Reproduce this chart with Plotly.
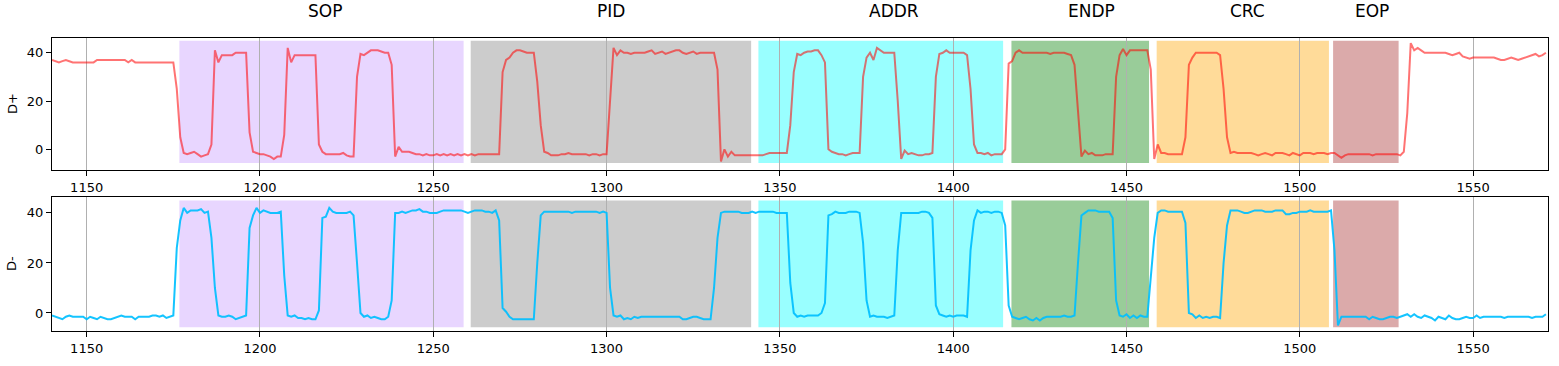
import plotly.graph_objects as go
from plotly.subplots import make_subplots

# ---------------- data ----------------
x_start = 1140
d_plus = [
    37, 36.5, 36, 36.5, 37, 36.5, 36, 36, 36, 36,            # 1140
    36, 36, 36, 37, 37, 37, 37, 37, 37, 37,                  # 1150
    37, 37, 36, 37, 36, 36, 36, 36, 36, 36,                  # 1160
    36, 36, 36, 36, 36, 36, 25, 5, -1.5, -2,                 # 1170
    -1.5, -1, -2, -3, -2.5, -2, 2, 41, 36, 39,               # 1180
    39, 39, 39, 40, 40, 40, 40, 7, -1, -1.5,                 # 1190
    -2, -2, -2.5, -3, -4, -3, -3, 6, 42, 36,                 # 1200
    39, 39, 39, 39, 39, 39, 39, 2, -1, -2,                   # 1210
    -2, -2, -2, -2, -1.5, -2.5, -3, -3, 30, 39.5,            # 1220
    39, 40, 41, 41, 41, 40.5, 40, 40, 35, -3,                # 1230
    1, -1, -1, -1, -1.5, -2, -2, -2.5, -2, -2.5,             # 1240
    -2.5, -2, -2.5, -2, -2.5, -2, -2.5, -2, -2.5, -2,        # 1250
    -2.5, -2, -2.5, -2, -2, -2, -2, -2, -2, -2,              # 1260
    32, 37, 38, 40, 41, 41, 40.5, 40, 40, 40,                # 1270
    28, 10, -1, -1.5, -2.5, -2.5, -2.5, -2, -2, -1.5,        # 1280
    -2, -2, -2, -2, -2, -2.5, -2, -2, -2.5, -2,              # 1290
    -2, 20, 42, 39, 41, 40, 40, 39.5, 40, 40,                # 1300
    40, 40, 40.5, 41, 39.5, 40, 40.5, 39.5, 40, 40.5,        # 1310
    41, 41, 40, 39.5, 40, 40.5, 39.5, 40, 40, 40,            # 1320
    40, 40, 33, -5, 0, -3, -1, -2.5, -2.5, -2.5,             # 1330
    -2.5, -2.5, -2.5, -2.5, -2.5, -2.5, -2, -1.5, -1.5, -1.5,  # 1340
    -1.5, -1.5, -1.5, 10, 32, 39.5, 39, 40, 40.5, 40.5,      # 1350
    41, 41, 39, 36, 0, -1, -1.5, -2, -2, -2.5,               # 1360
    -2, -1.5, -1.5, -1.5, 30, 38, 40, 37, 42, 41,            # 1370
    40, 40, 40, 40, 20, -4, -0.5, -2, -1.5, -2,              # 1380
    -2.5, -2.5, -2, -2, -1.5, 30, 39.5, 40, 41, 40,          # 1390
    40, 40, 40, 40, 39, 25, 2, -1.5, -1.5, -2,               # 1400
    -1.5, -2.5, -2, -2, -2, 0, 35.5, 36.5, 40, 41,           # 1410
    40, 40, 40, 40, 40, 40, 40, 40, 39.5, 40,                # 1420
    40, 40, 40, 39.5, 39, 35, 15, -3, -0.5, -2,              # 1430
    -1.5, -2.5, -2.5, -2.5, -2, -2, -2, 30, 39, 41.5,        # 1440
    39, 41, 41, 41, 41, 41, 41, 33, -4, 2,                   # 1450
    -1.5, -1.5, -2, -2, -2, -2, -2, 5, 35, 38,               # 1460
    40, 40, 40, 40, 40, 40, 40, 39, 25, 5,                   # 1470
    -1.5, -1, -1.5, -1.5, -1.5, -1.5, -1.5, -2, -2.5, -2,    # 1480
    -1.5, -2, -2.5, -1.5, -1.5, -1.5, -2, -2.5, -1.5, -2,    # 1490
    -2.5, -1.5, -1.5, -1.5, -2, -1.5, -1.5, -1.5, -2, -1.5,  # 1500
    -1.5, -2.5, -3.5, -2.5, -2, -2, -2, -2, -2, -2,          # 1510
    -2, -2.5, -2, -2, -2, -2, -2, -2, -2, -2.5,              # 1520
    -1, 15, 44, 41, 42, 41, 40, 40, 40, 40,                  # 1530
    40, 40, 40, 39.5, 39, 39.5, 40, 38.5, 38, 37.5,          # 1540
    38, 38, 38, 38, 38, 38, 38, 37.5, 37, 37,                # 1550
    37.5, 38, 37.5, 37, 37.5, 38, 38.5, 39, 39.5, 38.5,      # 1560
    39, 40,                                                  # 1570
]
d_minus = [
    -1, -1.5, -2, -2.5, -1.5, -1, -1.5, -1.5, -1.5, -1.5,    # 1140
    -2.5, -1.5, -2, -2.5, -1.5, -2, -2.5, -2.5, -2, -1.5,    # 1150
    -1, -1.5, -1.5, -1.5, -2.5, -1.5, -1.5, -1.5, -1.5, -1,  # 1160
    -1, -1.5, -1, -2, -1.5, -1, 26, 37, 42, 40,              # 1170
    41, 41, 41, 41.5, 40, 40.5, 30, 10, -1, -1.5,            # 1180
    -1.5, -1, -1.5, -2.5, -2, -1.5, -1, 34, 39, 42,          # 1190
    40, 41, 40.5, 40, 40, 40, 40.5, 15, -1, -1.5,            # 1200
    -1, -2, -2, -2.5, -2, -2.5, -2.5, 1, 38, 38.5,           # 1210
    42, 40.5, 40, 40, 40, 40, 40.5, 39, 20, 0,               # 1220
    -1.5, -1, -2, -1.5, -2, -2.5, -2.5, -1.5, 5, 40,         # 1230
    40, 40.5, 40, 40.5, 41, 41, 41.5, 40.5, 40.5, 40,        # 1240
    40, 40, 40.5, 41, 41, 41, 41, 41, 41, 40.5,              # 1250
    40, 40.5, 41, 41, 41, 40.5, 40.5, 40, 41, 37,            # 1260
    2, 0.5, -1.5, -2.5, -2.5, -2.5, -2.5, -2.5, -2.5, -2.5,  # 1270
    20, 39, 40.5, 40.5, 40.5, 40.5, 40.5, 40.5, 40.5, 40.5,  # 1280
    40, 40.5, 40.5, 40.5, 40.5, 40.5, 40.5, 40.5, 40, 40.5,  # 1290
    40, 10, -1, -1.5, -1, -2.5, -2, -2.5, -1.5, -2,          # 1300
    -1.5, -1.5, -1.5, -1.5, -1.5, -1.5, -1.5, -1.5, -1.5, -1.5,  # 1310
    -1.5, -1.5, -2.5, -2.5, -2, -1.5, -1.5, -2, -2.5, -2.5,  # 1320
    -2.5, 10, 30, 40, 40.5, 40.5, 40.5, 40.5, 40.5, 40,      # 1330
    40, 40, 40.5, 40, 40.5, 40.5, 40.5, 40.5, 40.5, 40,      # 1340
    40, 40, 40, 12, 0, -1.5, -1, -1.5, -1, -1,               # 1350
    -1, -1, 0, 4, 39, 39.5, 40.5, 40, 40, 40,                # 1360
    40.5, 40.5, 40.5, 40, 28, 5, -1.5, -1, -1.5, -1.5,       # 1370
    -1.5, -2, -1.5, -1, 25, 40, 40, 40, 40, 40,              # 1380
    40, 40.5, 40.5, 40, 38, 3, -0.5, -1, -1.5, -1,           # 1390
    -1.5, -1, -1, -1, -1.5, 25, 37, 41, 40, 40.5,            # 1400
    40.5, 40, 40.5, 40.5, 40, 35, 3, -1.5, -2, -2.5,         # 1410
    -2, -1.5, -2.5, -3, -2, -3, -2, -1.5, -1.5, -1.5,        # 1420
    -1.5, -1.5, -1, -1.5, -1.5, -1, 20, 39, 40, 41,          # 1430
    41, 41, 40.5, 40.5, 40.5, 40.5, 38, 5, -1, -1.5,         # 1440
    -0.5, -2, -1, -2, -1, -1.5, -1.5, 15, 30, 40,            # 1450
    41, 41, 40.5, 40.5, 40.5, 40.5, 40.5, 36, 0, -0.5,       # 1460
    -2, -1, -2, -1.5, -2, -1.5, -1.5, -2, 20, 35,            # 1470
    41, 41, 41, 40.5, 40, 40, 40.5, 41, 41, 41,              # 1480
    40.5, 40.5, 40.5, 41, 41, 41, 39.5, 39.5, 40, 40,        # 1490
    40.5, 40.5, 40.5, 41, 40.5, 40.5, 40.5, 40.5, 40.5, 41,  # 1500
    25, -5, -1.5, -1.5, -1.5, -1.5, -1.5, -1.5, -1.5, -1.5,  # 1510
    -2.5, -1.5, -2, -2.5, -2.5, -2, -1.5, -1.5, -2, -1.5,    # 1520
    -1, -0.5, -1.5, -0.5, -1.5, -2, -1, -1.5, -2, -3,        # 1530
    -1.5, -2, -2.5, -1, -2, -2.5, -2.5, -2, -1.5, -2,        # 1540
    -2, -1, -2, -1.5, -1.5, -1.5, -1.5, -1.5, -1.5, -2,      # 1550
    -1.5, -1.5, -1.5, -1.5, -1.5, -1.5, -1.5, -2, -1.5, -1.5,  # 1560
    -1.5, -0.5,                                              # 1570
]
samples = list(range(x_start, x_start + len(d_plus)))

field_names = ["SOP", "PID", "ADDR", "ENDP", "CRC", "EOP"]
field_start = [1176.75, 1260.8, 1343.8, 1416.8, 1458.7, 1509.6]
field_end = [1258.75, 1341.7, 1414.4, 1456.5, 1508.4, 1528.5]
field_label_x = [1218.8, 1301.3, 1382.8, 1439.9, 1484.8, 1520.9]
field_colors = ["rgb(197,152,255)", "rgb(128,128,128)", "rgb(0,255,255)",
                "rgb(0,128,0)", "rgb(255,165,0)", "rgb(165,42,42)"]
x_ticks = [1150, 1200, 1250, 1300, 1350, 1400, 1450, 1500, 1550]
y_ticks = [0, 20, 40]

# ---------------- figure ----------------
W, H = 1559, 366
ml, mr, mt, mb = 52, 10, 38, 33
ph = H - mt - mb
fig = make_subplots(rows=2, cols=1)

fig.add_trace(go.Scatter(x=samples, y=d_plus, mode="lines",
                         line=dict(color="rgba(255,0,0,0.55)", width=2),
                         showlegend=False), row=1, col=1)
fig.add_trace(go.Scatter(x=samples, y=d_minus, mode="lines",
                         line=dict(color="rgba(0,191,255,0.92)", width=2),
                         showlegend=False), row=2, col=1)

for xref, yref in (("x", "y"), ("x2", "y2")):
    for s, e, c in zip(field_start, field_end, field_colors):
        fig.add_shape(type="rect", xref=xref, yref=yref, x0=s, x1=e, y0=-5.7, y1=45,
                      fillcolor=c, opacity=0.4, line=dict(width=0), layer="below")

for name, lx in zip(field_names, field_label_x):
    fig.add_annotation(x=lx, xref="x", y=(H - mb - 11) / ph, yref="paper",
                       text=name, showarrow=False, xanchor="center", yanchor="middle",
                       font=dict(size=17, color="black"))

axis_common = dict(showline=True, mirror=True, linecolor="black", linewidth=1,
                   ticks="outside", ticklen=5, tickwidth=1, tickcolor="black",
                   zeroline=False, tickfont=dict(size=13, color="black"))
top_dom = [(H - mb - 171) / ph, 1.0]
bot_dom = [0.0, (H - mb - 198) / ph]
fig.update_xaxes(range=[1140, 1571.6], tickvals=x_ticks, showgrid=True,
                 gridcolor="rgb(176,176,176)", gridwidth=0.8, **axis_common)
fig.update_yaxes(tickvals=y_ticks, showgrid=False, **axis_common)
fig.update_layout(
    width=W, height=H, plot_bgcolor="white", paper_bgcolor="white",
    margin=dict(l=ml, r=mr, t=mt, b=mb),
    font=dict(family="DejaVu Sans", color="black"),
    xaxis=dict(domain=[0, 1], anchor="y"),
    xaxis2=dict(domain=[0, 1], anchor="y2"),
    yaxis=dict(domain=top_dom, range=[-8.6, 46.1]),
    yaxis2=dict(domain=bot_dom, range=[-7.2, 46.4]),
)
for label, dom in (("D+", top_dom), ("D-", bot_dom)):
    fig.add_annotation(x=(12 - ml) / (W - ml - mr), xref="paper",
                       y=(dom[0] + dom[1]) / 2, yref="paper", text=label,
                       textangle=-90, showarrow=False, xanchor="center", yanchor="middle",
                       font=dict(size=13, color="black"))

fig.write_html("out.html", config={"displayModeBar": False},
               post_script="document.body.style.margin='0';document.body.style.padding='0';")
